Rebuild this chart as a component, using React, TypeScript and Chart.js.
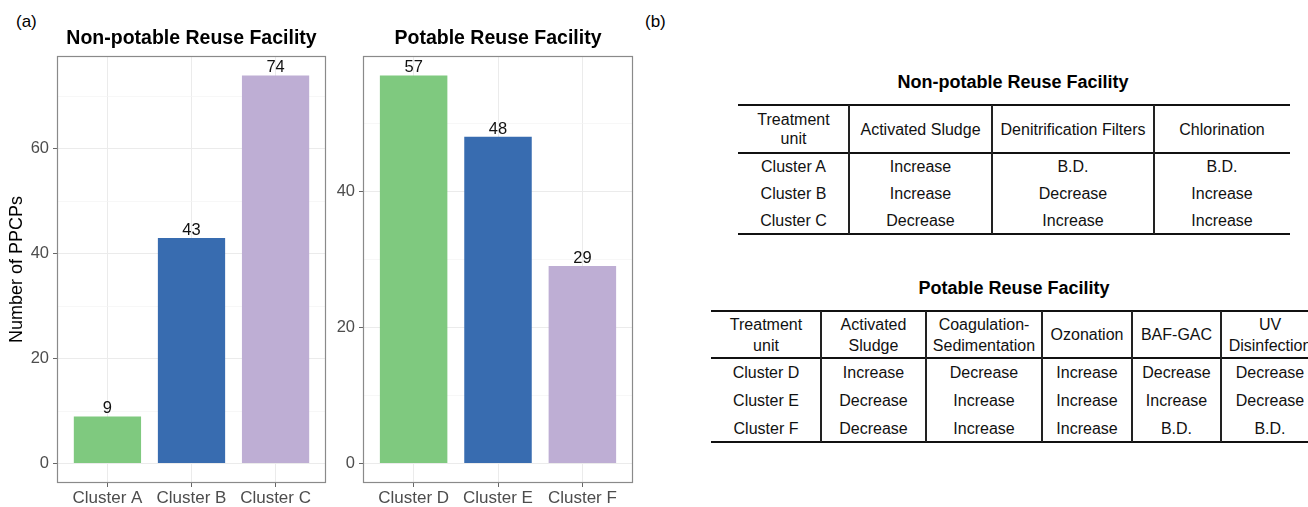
import React, { useEffect, useRef } from 'react';
import { Chart, registerables } from 'chart.js';

Chart.register(...registerables);

const FONT = '"Liberation Sans", Arial, Helvetica, sans-serif';

// ---------- Panel (a) data ----------
const nonPotableTitle = 'Non-potable Reuse Facility';
const nonPotableClusters = ['Cluster A', 'Cluster B', 'Cluster C'];
const nonPotableCounts = [9, 43, 74];
const nonPotableMajorTicks = [0, 20, 40, 60];
const nonPotableMinorTicks = [10, 30, 50, 70];

const potableTitle = 'Potable Reuse Facility';
const potableClusters = ['Cluster D', 'Cluster E', 'Cluster F'];
const potableCounts = [57, 48, 29];
const potableMajorTicks = [0, 20, 40];
const potableMinorTicks = [10, 30, 50];

const clusterColors = ['#7fc97f', '#386cb0', '#beaed4'];
const yAxisTitle = 'Number of PPCPs';

// ---------- Panel (b) data ----------
const npTableTitle = 'Non-potable Reuse Facility';
const npHeader = ['Treatment\nunit', 'Activated Sludge', 'Denitrification Filters', 'Chlorination'];
const npRows = [
  ['Cluster A', 'Increase', 'B.D.', 'B.D.'],
  ['Cluster B', 'Increase', 'Decrease', 'Increase'],
  ['Cluster C', 'Decrease', 'Increase', 'Increase'],
];

const pTableTitle = 'Potable Reuse Facility';
const pHeader = ['Treatment\nunit', 'Activated\nSludge', 'Coagulation-\nSedimentation', 'Ozonation', 'BAF-GAC', 'UV\nDisinfection'];
const pRows = [
  ['Cluster D', 'Increase', 'Decrease', 'Increase', 'Decrease', 'Decrease'],
  ['Cluster E', 'Decrease', 'Increase', 'Increase', 'Increase', 'Decrease'],
  ['Cluster F', 'Decrease', 'Increase', 'Increase', 'B.D.', 'B.D.'],
];

// ---------- plugins ----------
const panelBorder = {
  id: 'panelBorder',
  afterDraw(chart: any) {
    const { ctx, chartArea: a } = chart;
    ctx.save();
    ctx.strokeStyle = '#8a8a8a';
    ctx.lineWidth = 1.2;
    ctx.strokeRect(a.left + 0.5, a.top + 0.5, a.right - a.left - 1, a.bottom - a.top - 1);
    ctx.restore();
  },
};

const valueLabels = {
  id: 'valueLabels',
  afterDatasetsDraw(chart: any) {
    const { ctx } = chart;
    ctx.save();
    ctx.font = `16.5px ${FONT}`;
    ctx.fillStyle = '#111';
    ctx.textAlign = 'center';
    ctx.textBaseline = 'alphabetic';
    chart.data.datasets.forEach((ds: any, di: number) => {
      const meta = chart.getDatasetMeta(di);
      meta.data.forEach((bar: any, i: number) => {
        const v = ds.data[i].y;
        ctx.fillText(String(v), bar.x, bar.y - 3);
      });
    });
    ctx.restore();
  },
};

interface PanelProps {
  left: number;
  width: number;
  title: string;
  categories: string[];
  values: number[];
  majorTicks: number[];
  minorTicks: number[];
  yAxisWidth: number;
  rightPad: number;
  showYTitle: boolean;
}

function BarPanel(p: PanelProps) {
  const ref = useRef<HTMLCanvasElement>(null);
  useEffect(() => {
    const maxV = Math.max(...p.values);
    const allTicks = [...p.majorTicks, ...p.minorTicks].sort((a, b) => a - b);
    const isMajor = (v: number) => p.majorTicks.includes(v);
    const chart = new Chart(ref.current as HTMLCanvasElement, {
      type: 'bar',
      data: {
        datasets: [
          {
            data: p.values.map((v, i) => ({ x: i + 1, y: v })),
            backgroundColor: clusterColors,
            borderWidth: 0,
            categoryPercentage: 1,
            barPercentage: 0.8,
          },
        ],
      },
      options: {
        animation: false,
        responsive: false,
        maintainAspectRatio: false,
        devicePixelRatio: 1,
        layout: { padding: { left: 0, right: p.rightPad, top: 0, bottom: 0 } },
        plugins: {
          legend: { display: false },
          tooltip: { enabled: false },
          title: {
            display: true,
            text: p.title,
            fullSize: false,
            color: '#000',
            font: { family: FONT, size: 19.5, weight: 'bold' },
            padding: { top: 27, bottom: 5.6 },
          },
        },
        scales: {
          x: {
            type: 'linear',
            min: 0.4,
            max: p.categories.length + 0.6,
            offset: false,
            afterBuildTicks: (s: any) => {
              s.ticks = p.categories.map((_, i) => ({ value: i + 1 }));
            },
            afterFit: (s: any) => {
              s.height = 24;
            },
            ticks: {
              autoSkip: false,
              maxRotation: 0,
              padding: 1,
              color: '#4d4d4d',
              font: { family: FONT, size: 17 },
              callback: (_v: any, i: number) => p.categories[i],
            },
            grid: {
              offset: false,
              color: '#ebebeb',
              lineWidth: 1,
              tickLength: 4,
              tickColor: '#666',
            },
            border: { display: false },
          },
          y: {
            type: 'linear',
            min: -0.05 * maxV,
            max: 1.05 * maxV,
            afterBuildTicks: (s: any) => {
              s.ticks = allTicks.map((v) => ({ value: v }));
            },
            afterFit: (s: any) => {
              s.width = p.yAxisWidth;
            },
            ticks: {
              autoSkip: false,
              padding: 4,
              color: '#4d4d4d',
              font: { family: FONT, size: 16.5 },
              callback: (v: any) => (isMajor(v) ? String(v) : ''),
            },
            grid: {
              color: (c: any) => (c.tick && isMajor(c.tick.value) ? '#ebebeb' : '#f3f3f3'),
              lineWidth: (c: any) => (c.tick && isMajor(c.tick.value) ? 1 : 0.7),
              tickLength: 4,
              tickColor: (c: any) => (c.tick && isMajor(c.tick.value) ? '#666' : 'rgba(0,0,0,0)'),
            },
            border: { display: false },
            title: {
              display: p.showYTitle,
              text: yAxisTitle,
              color: '#000',
              font: { family: FONT, size: 18 },
              padding: { top: 6, bottom: 0 },
            },
          },
        },
      },
      plugins: [panelBorder, valueLabels],
    } as any);
    return () => chart.destroy();
  }, []);
  return (
    <canvas
      ref={ref}
      width={p.width}
      height={507}
      style={{ position: 'absolute', left: p.left, top: 0, width: p.width, height: 507 }}
    />
  );
}

interface TableProps {
  title: string;
  titleCx: number;
  titleCy: number;
  left: number;
  top: number;
  colWidths: number[];
  headerHeight: number;
  headerLineHeight: number;
  rowHeight: number;
  header: string[];
  rows: string[][];
}

function FacilityTable(t: TableProps) {
  const xs = t.colWidths.reduce((acc: number[], w) => [...acc, acc[acc.length - 1] + w], [0]);
  const total = xs[xs.length - 1];
  const bodyTop = t.top + t.headerHeight;
  const bottom = bodyTop + t.rows.length * t.rowHeight;
  const rule = (y: number, key: string) => (
    <div key={key} style={{ position: 'absolute', left: t.left, top: y - 1, width: total, height: 2, background: '#111' }} />
  );
  const cellBase: React.CSSProperties = {
    position: 'absolute',
    display: 'flex',
    alignItems: 'center',
    justifyContent: 'center',
    textAlign: 'center',
    fontFamily: FONT,
    fontSize: 16,
    color: '#111',
    whiteSpace: 'pre-line',
  };
  return (
    <>
      <div
        style={{
          position: 'absolute',
          left: t.titleCx - 200,
          width: 400,
          top: t.titleCy - 11,
          lineHeight: '22px',
          textAlign: 'center',
          fontFamily: FONT,
          fontWeight: 'bold',
          fontSize: 18,
          color: '#000',
        }}
      >
        {t.title}
      </div>
      {rule(t.top, 'r0')}
      {rule(bodyTop, 'r1')}
      {rule(bottom, 'r2')}
      {xs.slice(1, xs.length - 1).map((x, i) => (
        <div
          key={'v' + i}
          style={{ position: 'absolute', left: t.left + x - 0.75, top: t.top, width: 1.5, height: bottom - t.top, background: '#222' }}
        />
      ))}
      {t.header.map((h, c) => (
        <div
          key={'h' + c}
          style={{ ...cellBase, left: t.left + xs[c], top: t.top, width: t.colWidths[c], height: t.headerHeight, lineHeight: `${t.headerLineHeight}px` }}
        >
          {h}
        </div>
      ))}
      {t.rows.map((row, r) =>
        row.map((cell, c) => (
          <div
            key={`c${r}-${c}`}
            style={{ ...cellBase, left: t.left + xs[c], top: bodyTop + r * t.rowHeight, width: t.colWidths[c], height: t.rowHeight, lineHeight: '19px' }}
          >
            {cell}
          </div>
        ))
      )}
    </>
  );
}

export default function App() {
  const label: React.CSSProperties = {
    position: 'absolute',
    top: 12,
    lineHeight: '20px',
    fontFamily: FONT,
    fontSize: 17,
    color: '#000',
  };
  return (
    <div
      style={{
        position: 'fixed',
        left: 0,
        top: 0,
        width: 1308,
        height: 507,
        overflow: 'hidden',
        background: '#fff',
      }}
    >
      <div style={{ ...label, left: 16 }}>(a)</div>
      <div style={{ ...label, left: 645 }}>(b)</div>
      <BarPanel
        left={0}
        width={330}
        title={nonPotableTitle}
        categories={nonPotableClusters}
        values={nonPotableCounts}
        majorTicks={nonPotableMajorTicks}
        minorTicks={nonPotableMinorTicks}
        yAxisWidth={57}
        rightPad={4}
        showYTitle={true}
      />
      <BarPanel
        left={330}
        width={310}
        title={potableTitle}
        categories={potableClusters}
        values={potableCounts}
        majorTicks={potableMajorTicks}
        minorTicks={potableMinorTicks}
        yAxisWidth={33}
        rightPad={7}
        showYTitle={false}
      />
      <FacilityTable
        title={npTableTitle}
        titleCx={1013}
        titleCy={82}
        left={738}
        top={105}
        colWidths={[111, 143, 162, 136]}
        headerHeight={48}
        headerLineHeight={19}
        rowHeight={27}
        header={npHeader}
        rows={npRows}
      />
      <FacilityTable
        title={pTableTitle}
        titleCx={1014}
        titleCy={288}
        left={711}
        top={311}
        colWidths={[110, 105, 116, 90, 89, 98]}
        headerHeight={47}
        headerLineHeight={21}
        rowHeight={28}
        header={pHeader}
        rows={pRows}
      />
    </div>
  );
}
